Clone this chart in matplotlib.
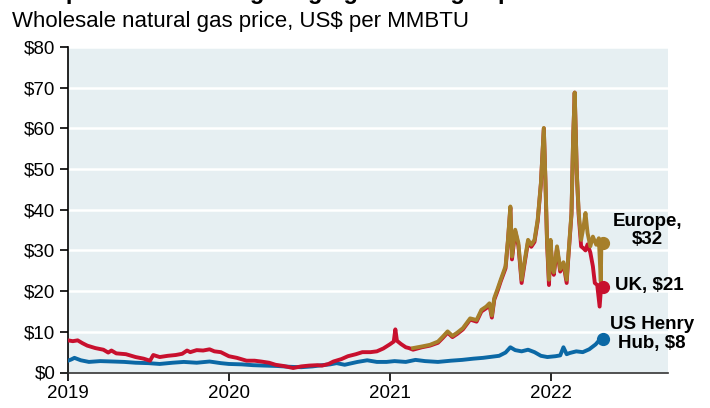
import numpy as np
import matplotlib.pyplot as plt

plt.rcParams['font.family'] = ['Liberation Sans', 'DejaVu Sans']

# decimal-year times and prices (US$ per MMBTU)
uk_t = [2019.00, 2019.03, 2019.06, 2019.09, 2019.12, 2019.17, 2019.22, 2019.25, 2019.27, 2019.30,
        2019.36, 2019.42, 2019.47, 2019.51, 2019.53, 2019.57, 2019.62, 2019.67, 2019.71, 2019.74,
        2019.76, 2019.80, 2019.84, 2019.88, 2019.91, 2019.95, 2020.00, 2020.05, 2020.11, 2020.16,
        2020.20, 2020.25, 2020.29, 2020.34, 2020.40, 2020.45, 2020.50, 2020.55, 2020.58, 2020.62,
        2020.65, 2020.70, 2020.74, 2020.79, 2020.83, 2020.88, 2020.92, 2020.96, 2021.00, 2021.025,
        2021.035, 2021.045, 2021.07, 2021.10, 2021.12, 2021.145,
        2021.20, 2021.25, 2021.30, 2021.33, 2021.36, 2021.39, 2021.42, 2021.455, 2021.50, 2021.54,
        2021.57, 2021.60, 2021.62, 2021.635, 2021.65, 2021.67, 2021.69, 2021.72, 2021.735, 2021.75,
        2021.76, 2021.78, 2021.80, 2021.82, 2021.84, 2021.86, 2021.88, 2021.90, 2021.92, 2021.94,
        2021.958, 2021.968, 2021.978, 2021.99, 2022.00, 2022.01, 2022.02, 2022.04, 2022.06, 2022.08,
        2022.10, 2022.11, 2022.13, 2022.14, 2022.15, 2022.163, 2022.175, 2022.19, 2022.205, 2022.217,
        2022.23, 2022.247, 2022.263, 2022.275, 2022.29, 2022.305, 2022.315, 2022.323]
uk_v = [7.9, 7.7, 7.9, 7.2, 6.6, 6.0, 5.6, 4.9, 5.4, 4.7,
        4.5, 3.8, 3.4, 2.9, 4.3, 3.8, 4.1, 4.3, 4.6, 5.4,
        5.0, 5.5, 5.4, 5.7, 5.2, 5.0, 4.0, 3.6, 2.9, 2.9,
        2.7, 2.4, 1.9, 1.6, 1.1, 1.5, 1.7, 1.8, 1.7, 2.1,
        2.7, 3.3, 4.0, 4.5, 5.0, 5.0, 5.2, 5.9, 6.9, 7.6,
        10.6, 7.8, 7.0, 6.2, 6.0, 5.6,
        6.2, 6.6, 7.3, 8.5, 9.8, 8.7, 9.5, 10.6, 13.0, 12.5,
        15.0, 15.8, 16.6, 13.5, 17.9, 20.0, 22.4, 25.6, 32.3, 40.5,
        27.8, 34.7, 31.2, 22.0, 27.2, 32.1, 30.9, 32.1, 37.2, 46.4,
        60.0, 47.0, 32.0, 21.5, 32.3, 25.4, 24.0, 30.5, 24.8, 26.7,
        22.0, 28.0, 38.9, 57.0, 68.8, 49.0, 38.6, 31.0, 30.5, 30.0,
        31.5, 29.5, 26.1, 22.0, 21.5, 16.2, 21.5, 21.0]

eu_t = [2021.145, 2021.20, 2021.25, 2021.30, 2021.33, 2021.36, 2021.39, 2021.42, 2021.455, 2021.50,
        2021.54, 2021.57, 2021.60, 2021.62, 2021.635, 2021.65, 2021.67, 2021.69, 2021.72, 2021.735,
        2021.75, 2021.76, 2021.78, 2021.80, 2021.82, 2021.84, 2021.86, 2021.88, 2021.90, 2021.92,
        2021.94, 2021.958, 2021.968, 2021.978, 2021.99, 2022.00, 2022.01, 2022.02, 2022.04, 2022.06,
        2022.08, 2022.10, 2022.11, 2022.13, 2022.14, 2022.15, 2022.163, 2022.175, 2022.19, 2022.205,
        2022.217, 2022.23, 2022.247, 2022.263, 2022.284, 2022.30, 2022.312, 2022.316, 2022.323]
eu_v = [6.0, 6.4, 6.8, 7.6, 8.8, 10.1, 9.0, 9.8, 10.9, 13.3,
        12.9, 15.4, 16.2, 17.0, 14.0, 18.3, 20.5, 22.8, 26.1, 32.6,
        40.8, 28.5, 35.1, 31.8, 22.8, 27.7, 32.6, 31.4, 32.6, 37.6,
        46.6, 60.1, 47.4, 32.6, 22.8, 32.6, 26.1, 24.6, 31.0, 25.4,
        27.1, 22.8, 28.5, 39.2, 57.3, 68.8, 49.1, 39.2, 32.6, 35.9,
        39.2, 34.3, 31.0, 33.4, 31.4, 33.0, 22.4, 32.0, 31.8]

us_t = [2019.00, 2019.02, 2019.04, 2019.08, 2019.13, 2019.20, 2019.28, 2019.35, 2019.42, 2019.50,
        2019.57, 2019.65, 2019.72, 2019.80, 2019.88, 2019.95, 2020.00, 2020.08, 2020.15, 2020.22,
        2020.30, 2020.38, 2020.45, 2020.52, 2020.58, 2020.63, 2020.67, 2020.72, 2020.80, 2020.86,
        2020.92, 2020.98, 2021.03, 2021.10, 2021.16, 2021.22, 2021.30, 2021.38, 2021.45, 2021.52,
        2021.58, 2021.64, 2021.68, 2021.72, 2021.75, 2021.78, 2021.82, 2021.86, 2021.90, 2021.94,
        2021.98, 2022.03, 2022.06, 2022.08, 2022.10, 2022.12, 2022.16, 2022.20, 2022.24, 2022.28,
        2022.30, 2022.323]
us_v = [2.9, 3.2, 3.6, 3.0, 2.6, 2.8, 2.7, 2.6, 2.4, 2.3,
        2.1, 2.4, 2.6, 2.4, 2.7, 2.3, 2.1, 2.0, 1.8, 1.7,
        1.6, 1.4, 1.3, 1.5, 1.8, 2.0, 2.3, 1.9, 2.6, 3.0,
        2.6, 2.6, 2.8, 2.6, 3.1, 2.8, 2.6, 2.9, 3.1, 3.4,
        3.6, 3.9, 4.1, 4.9, 6.2, 5.5, 5.2, 5.6, 5.0, 4.1,
        3.8, 4.0, 4.2, 6.2, 4.5, 4.8, 5.2, 5.0, 5.7, 6.9,
        7.8, 8.2]

year_ticks = [2019, 2020, 2021, 2022]
price_ticks = [0, 10, 20, 30, 40, 50, 60, 70, 80]

red = '#c8102e'
gold = '#a67f2a'
blue = '#0b68a5'

fig = plt.figure(figsize=(7.1, 4.08), dpi=100)
ax = fig.add_axes([68/710, (408-372.5)/408, 600/710, 325.5/408])
ax.set_facecolor('#e6eff2')

ax.plot(us_t, us_v, color=blue, lw=2.8, solid_joinstyle='round', zorder=3)
ax.plot(uk_t, uk_v, color=red, lw=2.8, solid_joinstyle='round', zorder=3)
ax.plot(eu_t, eu_v, color=gold, lw=2.8, solid_joinstyle='round', zorder=4)
ax.plot(us_t[-1], us_v[-1], 'o', color=blue, ms=8.5, zorder=5)
ax.plot(uk_t[-1], uk_v[-1], 'o', color=red, ms=8.5, zorder=5)
ax.plot(eu_t[-1], eu_v[-1], 'o', color=gold, ms=8.5, zorder=5)

ax.set_xlim(2019, 2022.73)
ax.set_ylim(0, 80)
ax.set_xticks(year_ticks)
ax.set_xticklabels([str(y) for y in year_ticks])
ax.set_yticks(price_ticks)
ax.set_yticklabels([f'${p}' for p in price_ticks])
ax.yaxis.grid(True, color='white', lw=1.8)
ax.set_axisbelow(True)
for s in ['top', 'right']:
    ax.spines[s].set_visible(False)
ax.spines['left'].set_color('black')
ax.spines['bottom'].set_color('#333333')
ax.spines['left'].set_linewidth(1.2)
ax.spines['bottom'].set_linewidth(1.2)
ax.tick_params(axis='both', labelsize=13.5, length=6, width=1.2, colors='black')
ax.tick_params(axis='x', pad=3)
ax.tick_params(axis='y', pad=3)

ax.text(2022.60, 34.9, 'Europe,\n$32', ha='center', va='center', fontsize=13.5,
        fontweight='bold', linespacing=1.15)
ax.text(2022.40, 21.3, 'UK, $21', ha='left', va='center', fontsize=13.5, fontweight='bold')
ax.text(2022.63, 9.5, 'US Henry\nHub, $8', ha='center', va='center', fontsize=13.5,
        fontweight='bold', linespacing=1.15)

# title is cropped at the top edge in the source image
fig.text(12/710, 1 + 1/408, 'Europe and UK seeing surging natural gas prices', fontsize=17,
         fontweight='bold', va='baseline', ha='left')
fig.text(12/710, 1 - 27/408, 'Wholesale natural gas price, US$ per MMBTU', fontsize=16,
         va='baseline', ha='left')

fig.savefig('out.png', dpi=100)
